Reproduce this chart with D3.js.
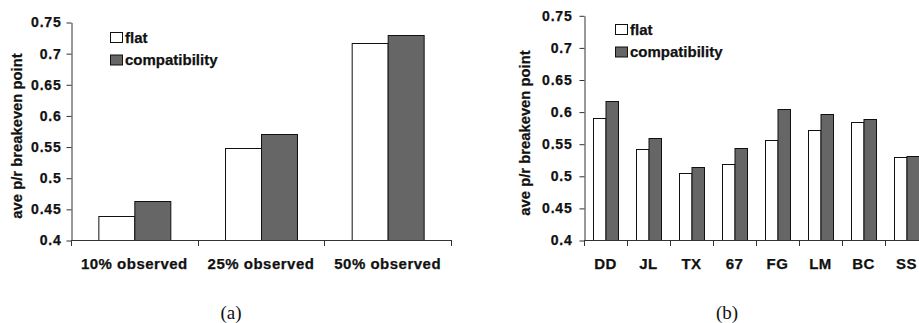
<!DOCTYPE html>
<html><head><meta charset="utf-8">
<script src="https://cdn.jsdelivr.net/npm/d3@7"></script>
<style>
html,body{margin:0;padding:0;background:#fff;}
svg{display:block;font-family:"Liberation Sans",Arial,sans-serif;}
</style></head>
<body>
<script>
// ---- data ----
const seriesNames = ["flat", "compatibility"];
const seriesColors = ["#ffffff", "#666666"];
const yTicks = [0.4, 0.45, 0.5, 0.55, 0.6, 0.65, 0.7, 0.75];
const yTickLabels = ["0.4", "0.45", "0.5", "0.55", "0.6", "0.65", "0.7", "0.75"];
const yTitle = "ave p/r breakeven point";

const catsA = ["10% observed", "25% observed", "50% observed"];
const flatA = [0.439, 0.547, 0.717];
const compatA = [0.462, 0.570, 0.729];

const catsB = ["DD", "JL", "TX", "67", "FG", "LM", "BC", "SS"];
const flatB = [0.590, 0.541, 0.504, 0.519, 0.555, 0.572, 0.584, 0.529];
const compatB = [0.616, 0.559, 0.513, 0.544, 0.604, 0.597, 0.589, 0.531];

const captions = ["(a)", "(b)"];

const W = 919, H = 323;
const FONT = "'Liberation Sans', Arial, sans-serif";
const svg = d3.select("body").append("svg").attr("width", W).attr("height", H);

function drawChart(cfg) {
  const g = svg.append("g");
  const x = d3.scaleBand().domain(cfg.cats).range([cfg.x0, cfg.x1]).paddingInner(0).paddingOuter(0);
  const xs = d3.scaleBand().domain(seriesNames).range([0, x.bandwidth()]).paddingInner(0).paddingOuter(cfg.pad);
  const y = d3.scaleLinear().domain([0.4, 0.75]).range([cfg.yb, cfg.yt]);
  const color = d3.scaleOrdinal().domain(seriesNames).range(seriesColors);

  // bars
  const rows = cfg.cats.map((c, i) => ({ c, vals: [cfg.flat[i], cfg.compat[i]] }));
  const grp = g.selectAll("g.cat").data(rows).join("g")
    .attr("transform", d => `translate(${x(d.c)},0)`);
  grp.selectAll("rect").data(d => d.vals.map((v, j) => ({ s: seriesNames[j], v })))
    .join("rect")
    .attr("x", d => xs(d.s) + 0.5)
    .attr("width", xs.bandwidth())
    .attr("y", d => Math.round(y(d.v)) + 0.5)
    .attr("height", d => Math.round(y(0.4)) - Math.round(y(d.v)))
    .attr("fill", d => color(d.s))
    .attr("stroke", "#111")
    .attr("stroke-width", 1);

  // y axis
  const ya = d3.axisLeft(y).tickValues(yTicks)
    .tickFormat((d, i) => yTickLabels[i]).tickSize(5).tickSizeOuter(0).tickPadding(cfg.tp);
  const yg = g.append("g").attr("transform", `translate(${cfg.x0 + 0.5},0.5)`).call(ya)
    .attr("font-family", FONT).attr("font-size", 14).attr("font-weight", "bold");
  yg.select(".domain").attr("stroke", "#333");
  yg.selectAll(".tick line").attr("stroke", "#333");
  yg.selectAll("text").attr("font-size", 14).attr("font-weight", "bold")
    .attr("letter-spacing", "0.8px").attr("fill", "#111")
    .attr("stroke", "#111").attr("stroke-width", 0.25);

  // x axis line and ticks at band boundaries
  g.append("line").attr("x1", cfg.x0).attr("x2", cfg.x1)
    .attr("y1", Math.round(y(0.4)) + 0.5).attr("y2", Math.round(y(0.4)) + 0.5)
    .attr("stroke", "#333");
  const bounds = cfg.cats.map(c => x(c)).concat([cfg.x1]);
  g.selectAll("line.xt").data(bounds).join("line")
    .attr("x1", d => Math.round(d) + 0.5).attr("x2", d => Math.round(d) + 0.5)
    .attr("y1", Math.round(y(0.4))).attr("y2", Math.round(y(0.4)) + 6)
    .attr("stroke", "#333");
  g.selectAll("text.xl").data(cfg.cats).join("text")
    .attr("x", d => x(d) + x.bandwidth() / 2)
    .attr("y", 269)
    .attr("text-anchor", "middle")
    .attr("font-size", 15).attr("font-weight", "bold")
    .attr("letter-spacing", "0.5px").attr("fill", "#111")
    .attr("stroke", "#111").attr("stroke-width", 0.25)
    .text(d => d);

  // y title
  g.append("text")
    .attr("transform", `translate(${cfg.tx},${cfg.ty}) rotate(-90)`)
    .attr("text-anchor", "middle")
    .attr("font-size", 14.8).attr("font-weight", "bold").attr("fill", "#111")
    .attr("stroke", "#111").attr("stroke-width", 0.25)
    .text(yTitle);

  // legend
  const lg = g.append("g").attr("transform", `translate(${cfg.lx},${cfg.ly})`);
  seriesNames.forEach((s, i) => {
    lg.append("rect").attr("x", 0.5).attr("y", i * 22.5 + 0.5).attr("width", 12).attr("height", 10)
      .attr("fill", color(s)).attr("stroke", "#111");
    lg.append("text").attr("x", 15).attr("y", i * 22.5 + 10.5)
      .attr("font-size", 15).attr("font-weight", "bold").attr("fill", "#111")
      .attr("stroke", "#111").attr("stroke-width", 0.25)
      .text(s);
  });

  // caption
  svg.append("text").attr("x", cfg.cx).attr("y", 319).attr("text-anchor", "middle")
    .attr("font-family", "'Liberation Serif','DejaVu Serif',serif")
    .attr("font-size", 19).attr("fill", "#111").text(cfg.caption);
}

drawChart({ cats: catsA, flat: flatA, compat: compatA, x0: 71, x1: 451, pad: 0.76,
  yb: 240, yt: 22, tp: 5, tx: 22, ty: 136, lx: 110, ly: 32, cx: 231, caption: captions[0] });
drawChart({ cats: catsB, flat: flatB, compat: compatB, x0: 584, x1: 928, pad: 0.72,
  yb: 240, yt: 15.3, tp: 7, tx: 530, ty: 133, lx: 615, ly: 24, cx: 727, caption: captions[1] });
</script>
</body></html>
